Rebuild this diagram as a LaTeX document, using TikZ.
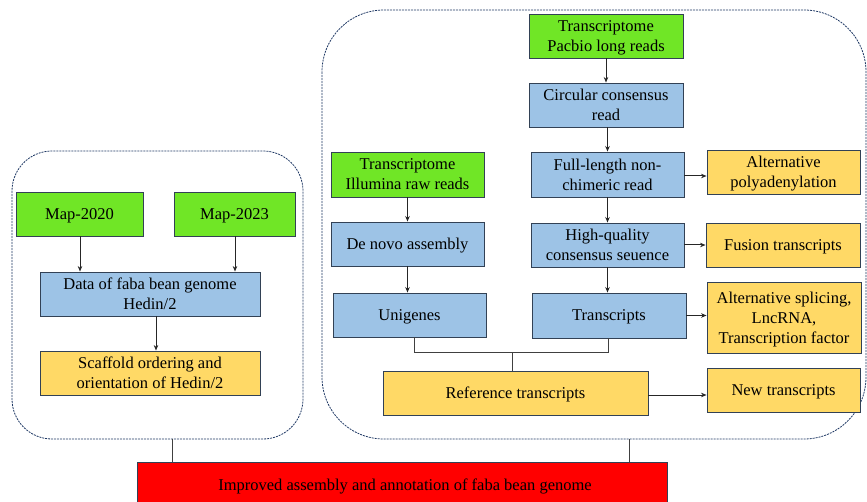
\documentclass[tikz,border=0pt]{standalone}
\usepackage{fontspec}
\setmainfont{Liberation Serif}
\usetikzlibrary{arrows.meta}
\definecolor{boxgreen}{RGB}{112,230,38}
\definecolor{boxblue}{RGB}{157,195,230}
\definecolor{boxyellow}{RGB}{255,217,102}
\definecolor{boxred}{RGB}{255,0,0}
\definecolor{boxline}{RGB}{50,65,85}
\definecolor{dashline}{RGB}{31,56,100}
\begin{document}
\begin{tikzpicture}[x=1pt,y=-1pt,
  base/.style={draw=boxline, line width=0.9pt, align=center, inner sep=1pt,
    font=\fontsize{16.5}{20}\selectfont, text=black, text depth=-2pt},
  gbox/.style={base, fill=boxgreen},
  bbox/.style={base, fill=boxblue},
  ybox/.style={base, fill=boxyellow},
  container/.style={draw=dashline, dashed, dash pattern=on 2pt off 1pt, line width=0.8pt},
  arr/.style={draw=black!85, line width=1pt, -{Stealth[length=5.5pt,width=4.5pt]}},
  con/.style={draw=black!75, line width=1pt}]
\clip (0,0) rectangle (867,502);
\useasboundingbox (0,0) rectangle (867,502);
% containers
\draw[container, rounded corners=40pt] (12,151) rectangle (303,439);
\draw[container, rounded corners=62pt] (322,10) rectangle (866,439);
% left group
\node[gbox, minimum width=127pt, minimum height=44pt] (m20) at (79.5,214) {Map-2020};
\node[gbox, minimum width=121pt, minimum height=44pt] (m23) at (234.5,214) {Map-2023};
\node[bbox, minimum width=220pt, minimum height=44pt] (data) at (150,294) {Data of faba bean genome\\Hedin/2};
\node[ybox, minimum width=220pt, minimum height=44pt] (scaf) at (150,373) {Scaffold ordering and\\orientation of Hedin/2};
\draw[arr] ([xshift=0.5pt]m20.south) -- ([xshift=0.5pt]m20.south |- data.north);
\draw[arr] ([xshift=0.5pt]m23.south) -- ([xshift=0.5pt]m23.south |- data.north);
\draw[arr] ([xshift=6pt]data.south) -- ([xshift=6pt]scaf.north);
% right group
\node[gbox, minimum width=154pt, minimum height=44pt] (pac) at (606,36) {Transcriptome\\Pacbio long reads};
\node[bbox, minimum width=154pt, minimum height=44pt] (ccs) at (606,105) {Circular consensus\\read};
\node[bbox, minimum width=153pt, minimum height=45pt] (flnc) at (607.5,174.5) {Full-length non-\\chimeric read};
\node[bbox, minimum width=153pt, minimum height=44pt] (hq) at (607.5,245) {High-quality\\consensus seuence};
\node[bbox, minimum width=154pt, minimum height=45pt] (tr) at (609,315.5) {Transcripts};
\node[ybox, minimum width=153pt, minimum height=44pt] (apa) at (783.5,172) {Alternative\\polyadenylation};
\node[ybox, minimum width=154pt, minimum height=44pt] (fus) at (783,245) {Fusion transcripts};
\node[ybox, minimum width=154pt, minimum height=71pt] (as) at (784,317.5) {Alternative splicing,\\LncRNA,\\Transcription factor};
\node[ybox, minimum width=153pt, minimum height=44pt] (new) at (783.5,390) {New transcripts};
\node[gbox, minimum width=153pt, minimum height=45pt] (ill) at (407.5,174.5) {Transcriptome\\Illumina raw reads};
\node[bbox, minimum width=153pt, minimum height=44pt] (dn) at (407.5,244) {De novo assembly};
\node[bbox, minimum width=153pt, minimum height=44pt] (uni) at (409.5,315) {Unigenes};
\node[ybox, minimum width=265pt, minimum height=44pt] (ref) at (515.5,393) {Reference transcripts};
\draw[arr] (pac.south) -- (ccs.north);
\draw[arr] ([xshift=1.5pt]ccs.south) -- ([xshift=1.5pt]ccs.south |- flnc.north);
\draw[arr] (flnc.south) -- (hq.north);
\draw[arr] (hq.south) -- (hq.south |- tr.north);
\draw[arr] (ill.south) -- (ill.south |- dn.north);
\draw[arr] (dn.south) -- (dn.south |- uni.north);
\draw[arr] ([yshift=-1.5pt]flnc.east) -- ([yshift=-1.5pt]flnc.east -| apa.west);
\draw[arr] (hq.east) -- (hq.east -| fus.west);
\draw[arr] (tr.east) -- (tr.east -| as.west);
\draw[arr] ([yshift=-2pt]ref.east) -- ([yshift=-2pt]ref.east -| new.west);
\coordinate (jl) at (414,353);
\coordinate (jr) at (608,353);
\coordinate (jm) at (512,353);
\draw[con] ([xshift=4.5pt]uni.south) -- (jl) -- (jr) -- ([xshift=-1pt]tr.south);
\draw[con] (jm) -- (jm |- ref.north);
% final
\node[base, fill=boxred, minimum width=530pt, minimum height=48pt, anchor=north west] (fin) at (137,462) {};
\node[font=\fontsize{16.5}{20}\selectfont, inner sep=0pt] (fintext) at (405,486) {Improved assembly and annotation of faba bean genome};
\coordinate (cl) at (172,439);
\coordinate (cr) at (629,439);
\draw[con] (cl) -- (cl |- fin.north);
\draw[con] (cr) -- (cr |- fin.north);
\end{tikzpicture}
\end{document}
